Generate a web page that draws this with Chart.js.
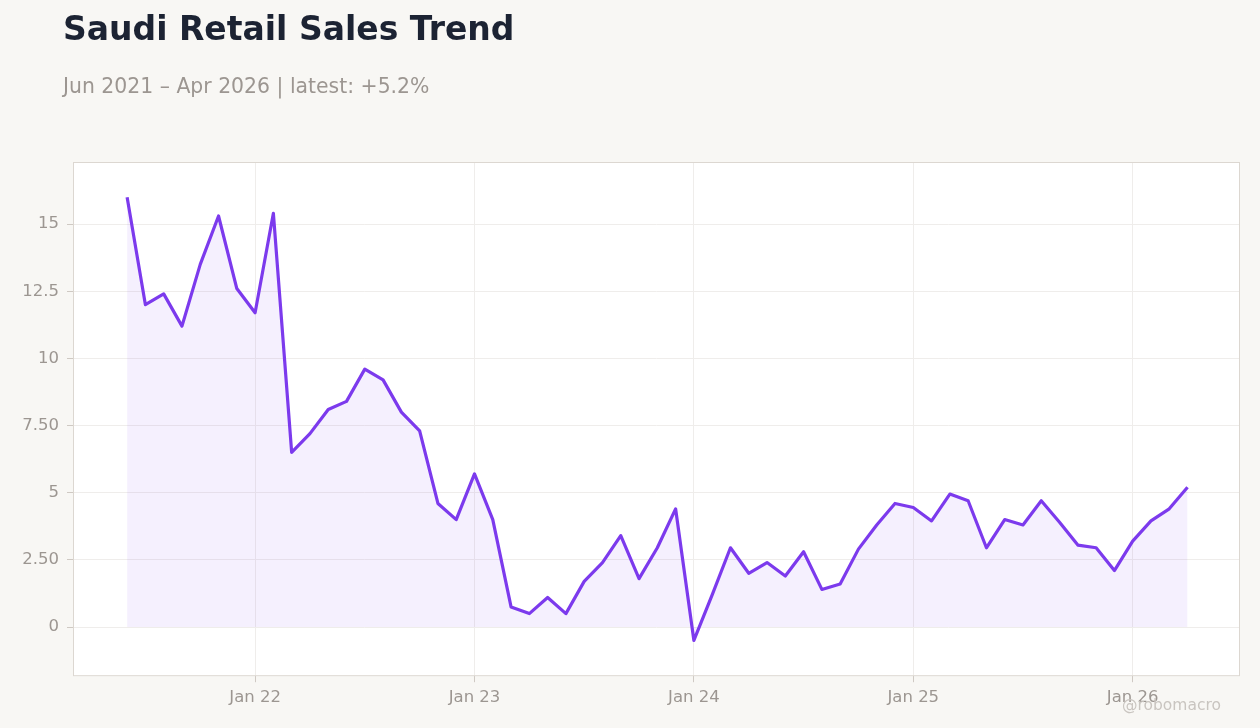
<!DOCTYPE html>
<html>
<head>
<meta charset="utf-8">
<script src="https://cdn.jsdelivr.net/npm/chart.js@4.4.1/dist/chart.umd.min.js"></script>
<style>
  html, body { margin: 0; padding: 0; background: #f8f7f4; }
  body { width: 1260px; height: 728px; position: relative; overflow: hidden; font-family: "DejaVu Sans", sans-serif; }
  #title { position: absolute; left: 63px; top: 9px; font-size: 33px; font-weight: bold; color: #1c2333; white-space: nowrap; }
  #subtitle { position: absolute; left: 63px; top: 74px; font-size: 20.4px; color: #9c9691; white-space: nowrap; }
  #wrap { position: absolute; left: 0; top: 0; width: 1260px; height: 728px; }
  #mark { position: absolute; left: 1122px; top: 696px; font-size: 15.5px; color: #c9c5c0; white-space: nowrap; }
</style>
</head>
<body>
<div id="wrap"><canvas id="chart"></canvas></div>
<div id="title">Saudi Retail Sales Trend</div>
<div id="subtitle">Jun 2021 – Apr 2026 | latest: +5.2%</div>
<div id="mark">@robomacro</div>
<script>
// monthly series, Jun 2021 .. Apr 2026 (YoY %)
const startYear = 2021;
const startMonth = 6;
const salesGrowth = [
  16.0, 12.0, 12.4, 11.2, 13.5, 15.3, 12.6, 11.7, 15.4, 6.5,
  7.2, 8.1, 8.4, 9.6, 9.2, 8.0, 7.3, 4.6, 4.0, 5.7,
  4.0, 0.75, 0.5, 1.1, 0.5, 1.7, 2.4, 3.4, 1.8, 2.95,
  4.4, -0.5, 1.2, 2.95, 2.0, 2.4, 1.9, 2.8, 1.4, 1.6,
  2.9, 3.8, 4.6, 4.45, 3.95, 4.95, 4.7, 2.95, 4.0, 3.8,
  4.7, 3.9, 3.05, 2.95, 2.1, 3.2, 3.95, 4.4, 5.2
];

const months = salesGrowth.map((_, i) => {
  const m = startMonth - 1 + i;
  return { year: startYear + Math.floor(m / 12), month: (m % 12) + 1 };
});

const xTickLabels = ["Jan 22", "Jan 23", "Jan 24", "Jan 25", "Jan 26"];
const yTickValues = [0, 2.5, 5, 7.5, 10, 12.5, 15];
const yTickLabels = ["0", "2.50", "5", "7.50", "10", "12.5", "15"];

// x position of each Jan tick = index of that month in the series
const xTickIndex = xTickLabels.map((lbl) => {
  const yr = 2000 + parseInt(lbl.slice(4), 10);
  return months.findIndex((m) => m.year === yr && m.month === 1);
});

const points = salesGrowth.map((v, i) => ({ x: i, y: v }));

const plotBox = {
  id: "plotBox",
  beforeDraw(chart) {
    const { ctx, chartArea: a } = chart;
    ctx.save();
    ctx.fillStyle = "#ffffff";
    ctx.fillRect(a.left, a.top, a.right - a.left, a.bottom - a.top);
    ctx.restore();
  },
  afterDraw(chart) {
    const { ctx, chartArea: a } = chart;
    ctx.save();
    ctx.strokeStyle = "#dcd7d1";
    ctx.lineWidth = 1;
    ctx.strokeRect(a.left + 0.5, a.top + 0.5, a.right - a.left - 1, a.bottom - a.top - 1);
    ctx.restore();
  },
};

new Chart(document.getElementById("chart"), {
  type: "line",
  data: {
    datasets: [
      {
        label: "Retail sales",
        data: points,
        borderColor: "#7c3aed",
        backgroundColor: "rgba(124, 58, 237, 0.08)",
        borderWidth: 3.2,
        fill: "origin",
        tension: 0,
        pointRadius: 0,
        borderJoinStyle: "round",
      },
    ],
  },
  options: {
    responsive: true,
    maintainAspectRatio: false,
    animation: false,
    layout: { padding: { top: 162, right: 20, bottom: 14, left: 0 } },
    scales: {
      x: {
        type: "linear",
        min: -2.96,
        max: 60.87,
        afterBuildTicks: (axis) => {
          axis.ticks = xTickIndex.map((v) => ({ value: v }));
        },
        ticks: {
          autoSkip: false,
          maxRotation: 0,
          padding: 6,
          color: "#9c9691",
          font: { family: "DejaVu Sans", size: 16.5 },
          callback: (v) => {
            const k = xTickIndex.indexOf(v);
            return k >= 0 ? xTickLabels[k] : "";
          },
        },
        grid: { color: "#efedeb", tickColor: "#cfc9c3", tickLength: 6 },
        border: { display: false },
      },
      y: {
        min: -1.83,
        max: 17.31,
        afterBuildTicks: (axis) => {
          axis.ticks = yTickValues.map((v) => ({ value: v }));
        },
        ticks: {
          padding: 8,
          color: "#9c9691",
          font: { family: "DejaVu Sans", size: 16.5 },
          callback: (v) => {
            const k = yTickValues.indexOf(v);
            return k >= 0 ? yTickLabels[k] : "";
          },
        },
        grid: { color: "#efedeb", tickColor: "#cfc9c3", tickLength: 6 },
        border: { display: false },
        afterFit: (axis) => {
          axis.width = 73;
        },
      },
    },
    plugins: {
      legend: { display: false },
      tooltip: { enabled: false },
    },
  },
  plugins: [plotBox],
});
</script>
</body>
</html>
